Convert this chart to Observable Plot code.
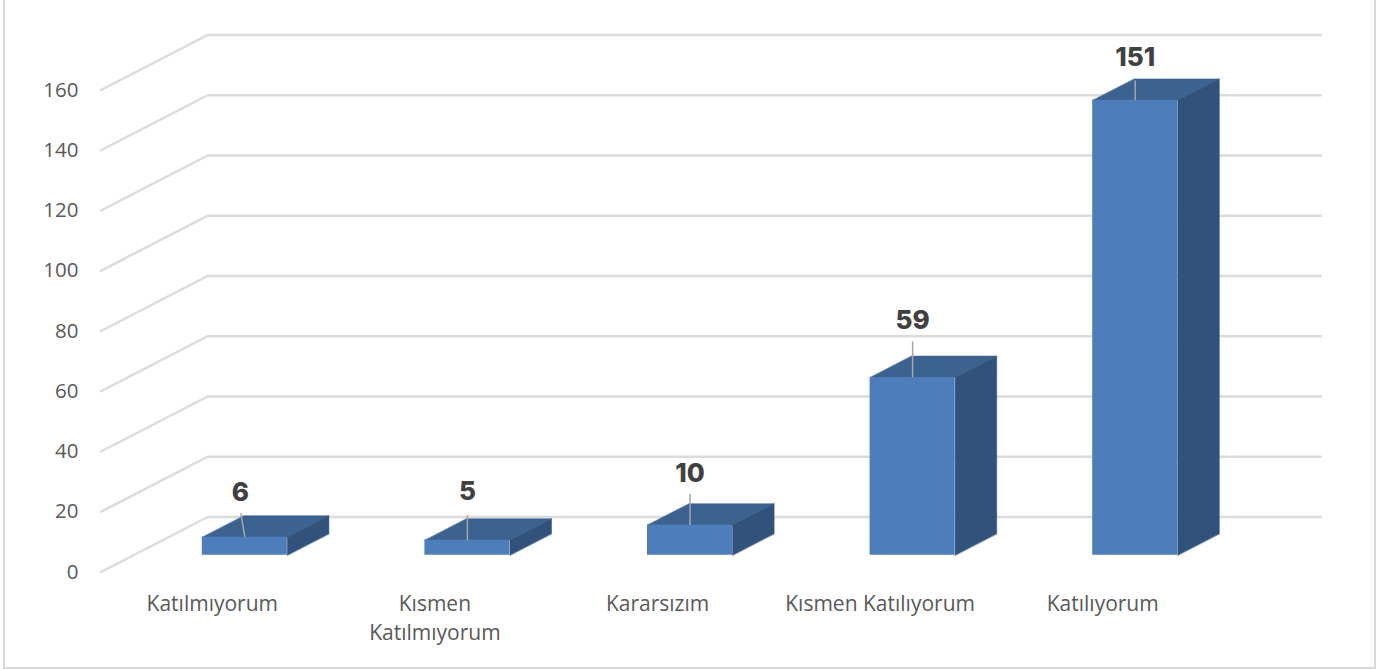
<!DOCTYPE html>
<html lang="tr">
<head>
<meta charset="utf-8">
<script src="https://cdn.jsdelivr.net/npm/d3@7"></script>
<script src="https://cdn.jsdelivr.net/npm/@observablehq/plot@0.6"></script>
<style>
html,body{margin:0;padding:0;background:#fff;overflow:hidden}
#chart{position:relative;width:1376px;height:669px}
#chart:after{content:"";position:absolute;left:3px;top:-2px;right:0;bottom:0;border:2px solid #d9d9d9;pointer-events:none}
svg{display:block}
</style>
</head>
<body>
<div id="chart"></div>
<script>
const categories = ["Katılmıyorum", "Kısmen\nKatılmıyorum", "Kararsızım", "Kısmen Katılıyorum", "Katılıyorum"];
const values = [6, 5, 10, 59, 151];
const yTicks = [0, 20, 40, 60, 80, 100, 120, 140, 160];
const labelLift = [14.8, 16, 17.2, 19, 14];
const leaderLift = [8, 8.3, 10.3, 12, 6.6];
const leaderLean = [-0.018, 0, 0, 0, 0];

// Oblique projection: depth d (0 front, 1 back) shifts x (category units) and y (value units)
const DX = 0.479, DY = 18.26, FRONT = 0.305, BACK = 0.695, HALF = 0.191;
const px = (i, d) => i + DX * d;
const py = (v, d) => v + DY * d;

const grid = yTicks.flatMap(t => [
  {t, x: px(-0.5, 0), y: py(t, 0)},
  {t, x: px(-0.5, 1), y: py(t, 1)},
  {t, x: px(4.5, 1), y: py(t, 1)}
]);
const bars = values.map((v, i) => ({i, v}));
const face = fn => bars.flatMap(fn);
const topFace = face(({i, v}) => [
  {i, x: px(i - HALF, FRONT), y: py(v, FRONT)},
  {i, x: px(i + HALF, FRONT), y: py(v, FRONT)},
  {i, x: px(i + HALF, BACK), y: py(v, BACK)},
  {i, x: px(i - HALF, BACK), y: py(v, BACK)}
]);
const sideFace = face(({i, v}) => [
  {i, x: px(i + HALF, FRONT), y: py(0, FRONT)},
  {i, x: px(i + HALF, FRONT), y: py(v, FRONT)},
  {i, x: px(i + HALF, BACK), y: py(v, BACK)},
  {i, x: px(i + HALF, BACK), y: py(0, BACK)}
]);
const frontFace = bars.map(({i, v}) => ({
  x1: px(i - HALF, FRONT), x2: px(i + HALF, FRONT), y1: py(0, FRONT), y2: py(v, FRONT)
}));
const leaders = bars.map(({i, v}) => ({
  x1: px(i, FRONT), y1: py(v, FRONT),
  x2: px(i + leaderLean[i], FRONT), y2: py(v + leaderLift[i], FRONT)
}));
const labels = bars.map(({i, v}) => ({
  x: px(i + leaderLean[i] * 1.1, FRONT), y: py(v + labelLift[i], FRONT), text: String(v)
}));

const chart = Plot.plot({
  width: 1376, height: 669,
  marginLeft: 100.5, marginRight: 162.5, marginTop: 89.5, marginBottom: 97.5,
  style: {background: "#fff", fontFamily: "'Open Sans', sans-serif"},
  x: {type: "linear", domain: [-0.5, 4.5]},
  y: {type: "linear", domain: [0, 160]},
  marks: [
    Plot.axisY({ticks: yTicks, tickSize: 0, tickPadding: 22.5, fontSize: 20.5, fill: "#595959", label: null}),
    Plot.axisX({ticks: categories.map((_, i) => i), tickFormat: i => categories[i], tickSize: 0, tickPadding: 18.5,
      fontSize: 21, fill: "#595959", label: null, lineHeight: 1.38}),
    Plot.line(grid, {x: "x", y: "y", z: "t", stroke: "#dbdbdb", strokeWidth: 2.5, curve: "linear"}),
    Plot.line(topFace, {x: "x", y: "y", z: "i", fill: "#3c628f", stroke: "#3c628f", strokeWidth: 0.5, curve: "linear-closed"}),
    Plot.line(sideFace, {x: "x", y: "y", z: "i", fill: "#31527a", stroke: "#31527a", strokeWidth: 0.5, curve: "linear-closed"}),
    Plot.rect(frontFace, {x1: "x1", x2: "x2", y1: "y1", y2: "y2", fill: "#4d7ebb"}),
    Plot.link(leaders, {x1: "x1", y1: "y1", x2: "x2", y2: "y2", stroke: "#a6a6a6", strokeWidth: 1.5}),
    Plot.text(labels, {x: "x", y: "y", text: "text", fontSize: 26, fontWeight: 800, fill: "#404040",
      fontFamily: "Inter, sans-serif"})
  ]
});
document.getElementById("chart").appendChild(chart);
</script>
</body>
</html>
